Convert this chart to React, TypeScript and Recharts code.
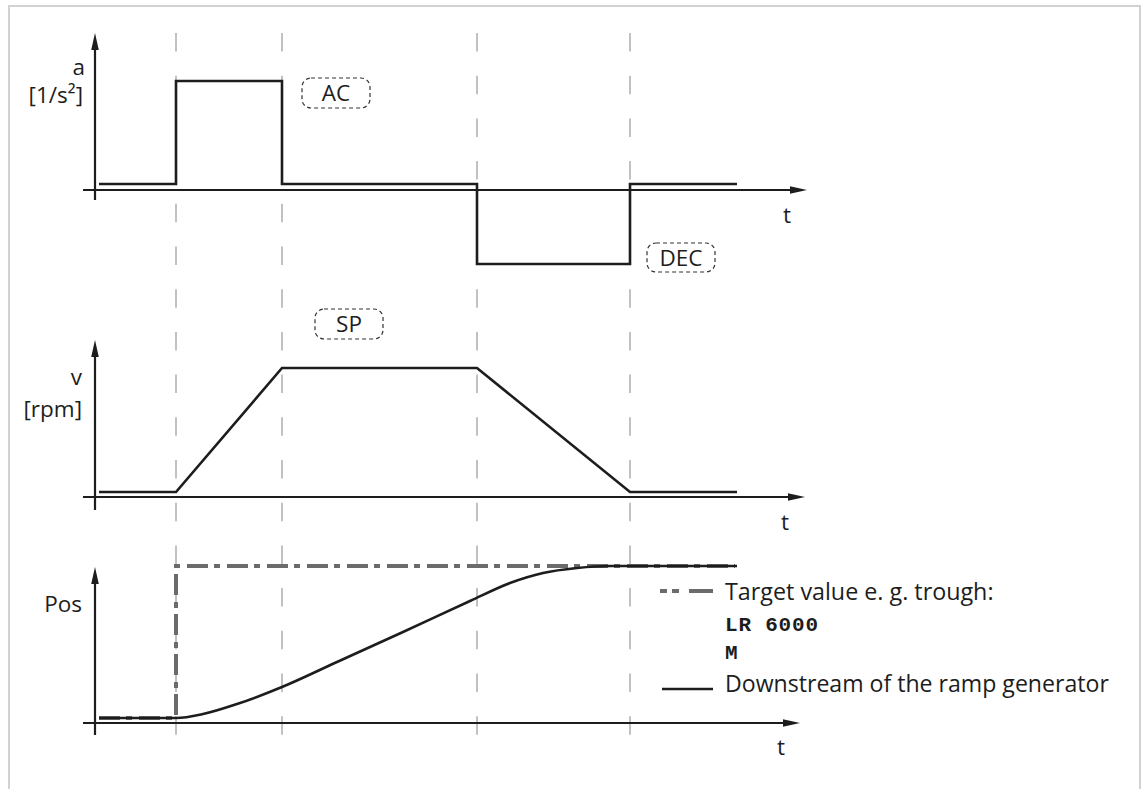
import React from 'react';
import {
  LineChart,
  Line,
  XAxis,
  YAxis,
  ReferenceLine,
  ReferenceDot,
  ReferenceArea,
  Legend,
} from 'recharts';

// time axis (ms), shared by all three panels
const phaseTimes = [81, 187, 382, 535];

// acceleration a [1/s²]
const accTime = [4, 81, 81, 187, 187, 382, 382, 535, 535, 642];
const accValue = [6, 6, 109, 109, 6, 6, -74, -74, 6, 6];

// speed v [rpm]
const velTime = [4, 81, 187, 382, 535, 642];
const velValue = [5, 5, 129, 129, 5, 5];

// position: target (setpoint jump) and ramp generator output
const targetTime = [4, 81, 81, 640];
const targetValue = [5, 5, 157, 157];
const posTime = [4, 81, 108, 142, 187, 242, 308, 375, 415, 448, 482, 515, 535, 642];
const posValue = [5, 5, 9, 19, 36, 61, 91, 122, 140, 150, 155, 157, 157, 157];

const legendLabels = ['Target value e. g. trough:', 'LR 6000', 'M', 'Downstream of the ramp generator'];

const W = 1142;
const X_DOMAIN: [number, number] = [-95, 1047];
const FONT = '"Open Sans", sans-serif';
const MONO = '"Liberation Mono", monospace';
const INK = '#1d1d1d';

const zip = (ts: number[], vs: number[]) => ts.map((t, i) => ({ t, v: vs[i] }));

const accData = zip(accTime, accValue);
const velData = zip(velTime, velValue);
const targetData = zip(targetTime, targetValue);
const posData = zip(posTime, posValue);
const guideData = phaseTimes.map((t) => ({ t, v: 0.5 }));

// line with a filled arrow head at the end point
const arrowShape = (props: any) => {
  const { x1, y1, x2, y2 } = props;
  const dx = x2 - x1;
  const dy = y2 - y1;
  const len = Math.hypot(dx, dy) || 1;
  const ux = dx / len;
  const uy = dy / len;
  const head = 17;
  const half = 3.8;
  const bx = x2 - ux * head;
  const by = y2 - uy * head;
  const px = -uy * half;
  const py = ux * half;
  return (
    <g>
      <line x1={x1} y1={y1} x2={bx + ux * 3} y2={by + uy * 3} stroke={INK} strokeWidth={2.2} />
      <polygon points={`${x2},${y2} ${bx + px},${by + py} ${bx - px},${by - py}`} fill={INK} />
    </g>
  );
};

const guideShape = (props: any) => (
  <line
    x1={props.x1}
    y1={props.y1}
    x2={props.x2}
    y2={props.y2}
    stroke="#a0a0a0"
    strokeWidth={1.3}
    strokeDasharray="18.5 24.2"
  />
);

const textShape = (text: string, anchor: 'start' | 'middle' | 'end' = 'end') => (p: any) => (
  <text x={p.cx} y={p.cy} textAnchor={anchor} fontFamily={FONT} fontSize={22.5} fill={INK}>
    {text}
  </text>
);

const boxShape = (text: string) => (p: any) => (
  <g>
    <rect
      x={p.x}
      y={p.y}
      width={p.width}
      height={p.height}
      rx={9}
      fill="none"
      stroke="#333"
      strokeWidth={1.2}
      strokeDasharray="4 3"
    />
    <text
      x={p.x + p.width / 2}
      y={p.y + p.height / 2 + 8}
      textAnchor="middle"
      fontFamily={FONT}
      fontSize={22.5}
      fill={INK}
    >
      {text}
    </text>
  </g>
);

const renderLegend = () => (
  <svg width={490} height={135} style={{ display: 'block', overflow: 'visible' }}>
    <line x1={10} y1={21} x2={63} y2={21} stroke="#6b6b6b" strokeWidth={4} strokeDasharray="7 5 7 10 24" />
    <text x={75} y={30} fontFamily={FONT} fontSize={23.3} fill={INK}>{legendLabels[0]}</text>
    <text x={75} y={61} fontFamily={MONO} fontWeight="bold" fontSize={21} letterSpacing={0.8} fill={INK}>
      {legendLabels[1]}
    </text>
    <text x={75} y={89} fontFamily={MONO} fontWeight="bold" fontSize={21} fill={INK}>
      {legendLabels[2]}
    </text>
    <line x1={12} y1={119} x2={63} y2={119} stroke={INK} strokeWidth={2.5} />
    <text x={75} y={122} fontFamily={FONT} fontSize={23.1} fill={INK}>{legendLabels[3]}</text>
  </svg>
);

export default function App() {
  return (
    <div style={{ position: 'absolute', left: 0, top: 0, width: W, height: 789, background: '#fff', overflow: 'hidden' }}>
      <div
        style={{
          position: 'absolute',
          left: 8,
          top: 5,
          width: 1133,
          height: 800,
          boxSizing: 'border-box',
          border: '2px solid #d2d2d2',
          borderBottom: 'none',
        }}
      />

      {/* dashed phase guides through all panels */}
      <div style={{ position: 'absolute', left: 0, top: 0 }}>
        <LineChart width={W} height={789} data={guideData} margin={{ top: 33, right: 0, bottom: 54, left: 0 }}>
          <XAxis dataKey="t" type="number" domain={X_DOMAIN} hide allowDataOverflow />
          <YAxis type="number" domain={[0, 1]} hide allowDataOverflow />
          <Line dataKey="v" stroke="none" dot={false} activeDot={false} isAnimationActive={false} />
          {phaseTimes.map((t) => (
            <ReferenceLine key={t} segment={[{ x: t, y: 1 }, { x: t, y: 0 }]} shape={guideShape} />
          ))}
        </LineChart>
      </div>

      {/* acceleration */}
      <div style={{ position: 'absolute', left: 0, top: 20 }}>
        <LineChart width={W} height={270} data={accData} margin={{ top: 0, right: 0, bottom: 0, left: 0 }}>
          <XAxis dataKey="t" type="number" domain={X_DOMAIN} hide allowDataOverflow />
          <YAxis type="number" domain={[-100, 170]} hide allowDataOverflow />
          <ReferenceLine segment={[{ x: -12, y: 0 }, { x: 712, y: 0 }]} shape={arrowShape} />
          <ReferenceLine segment={[{ x: 0, y: -10 }, { x: 0, y: 157 }]} shape={arrowShape} />
          <ReferenceDot x={-10} y={115} r={0} shape={textShape('a')} />
          <ReferenceDot x={-12} y={87} r={0} shape={textShape('[1/s²]')} />
          <ReferenceDot x={692} y={-33} r={0} shape={textShape('t', 'middle')} />
          <ReferenceArea x1={207} x2={275} y1={82} y2={112} shape={boxShape('AC')} />
          <ReferenceArea x1={552} x2={620} y1={-82} y2={-53} shape={boxShape('DEC')} />
          <Line dataKey="v" type="linear" stroke={INK} strokeWidth={2.6} dot={false} isAnimationActive={false} />
        </LineChart>
      </div>

      {/* speed */}
      <div style={{ position: 'absolute', left: 0, top: 290 }}>
        <LineChart width={W} height={250} data={velData} margin={{ top: 0, right: 0, bottom: 0, left: 0 }}>
          <XAxis dataKey="t" type="number" domain={X_DOMAIN} hide allowDataOverflow />
          <YAxis type="number" domain={[-43, 207]} hide allowDataOverflow />
          <ReferenceLine segment={[{ x: -12, y: 0 }, { x: 710, y: 0 }]} shape={arrowShape} />
          <ReferenceLine segment={[{ x: 0, y: -13 }, { x: 0, y: 157 }]} shape={arrowShape} />
          <ReferenceDot x={-13} y={112} r={0} shape={textShape('v')} />
          <ReferenceDot x={-13} y={80} r={0} shape={textShape('[rpm]')} />
          <ReferenceDot x={690} y={-33} r={0} shape={textShape('t', 'middle')} />
          <ReferenceArea x1={220} x2={288} y1={158} y2={188} shape={boxShape('SP')} />
          <Line dataKey="v" type="linear" stroke={INK} strokeWidth={2.6} dot={false} isAnimationActive={false} />
        </LineChart>
      </div>

      {/* position */}
      <div style={{ position: 'absolute', left: 0, top: 540 }}>
        <LineChart width={W} height={249} margin={{ top: 0, right: 0, bottom: 0, left: 0 }}>
          <XAxis dataKey="t" type="number" domain={X_DOMAIN} hide allowDataOverflow />
          <YAxis type="number" domain={[-66, 183]} hide allowDataOverflow />
          <ReferenceLine segment={[{ x: -12, y: 0 }, { x: 705, y: 0 }]} shape={arrowShape} />
          <ReferenceLine segment={[{ x: 0, y: -12 }, { x: 0, y: 156 }]} shape={arrowShape} />
          <ReferenceDot x={-13} y={111} r={0} shape={textShape('Pos')} />
          <ReferenceDot x={686} y={-32} r={0} shape={textShape('t', 'middle')} />
          <Line
            data={targetData}
            dataKey="v"
            type="linear"
            stroke="#6b6b6b"
            strokeWidth={4}
            strokeDasharray="21 6 6 7"
            dot={false}
            isAnimationActive={false}
          />
          <Line data={posData} dataKey="v" type="monotone" stroke={INK} strokeWidth={2.6} dot={false} isAnimationActive={false} />
          <Legend
            layout="vertical"
            align="center"
            verticalAlign="middle"
            content={renderLegend}
            wrapperStyle={{ position: 'absolute', left: 650, top: 30, width: 490 }}
          />
        </LineChart>
      </div>
    </div>
  );
}
